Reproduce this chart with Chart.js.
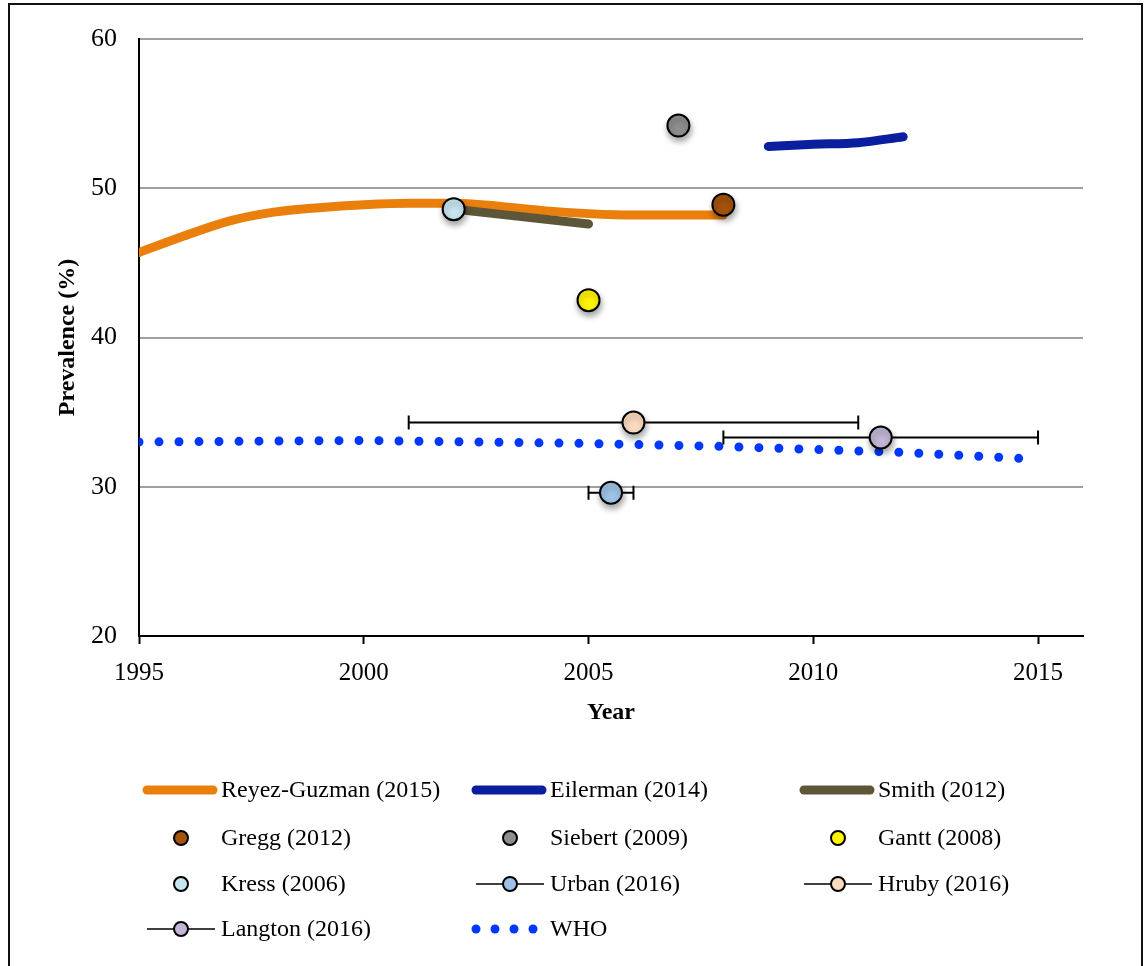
<!DOCTYPE html>
<html>
<head>
<meta charset="utf-8">
<script src="https://cdn.jsdelivr.net/npm/chart.js@4"></script>
<style>
  body { margin: 0; background: #fff; overflow: hidden; }
  #wrap { position: relative; width: 1144px; height: 966px; }
  #frame { position: absolute; left: 8px; top: 3px; width: 1131px; height: 1100px; border: 2px solid #111; pointer-events: none; }
</style>
</head>
<body>
<div id="wrap">
  <canvas id="grafica"></canvas>
  <div id="frame"></div>
</div>
<script>
// series values
var reyezYears = [1995, 1996, 1997, 1998, 1999, 2000, 2001, 2002, 2003, 2004, 2005, 2006, 2007, 2008];
var reyezVals  = [45.7, 46.8, 47.8, 48.4, 48.7, 48.9, 49.0, 49.0, 48.8, 48.5, 48.3, 48.2, 48.2, 48.2];
var eilermanYears = [2009, 2010, 2011, 2012];
var eilermanVals  = [52.8, 52.95, 53.05, 53.45];
var smithYears = [2002, 2005];
var smithVals  = [48.6, 47.6];
var whoYears = [1995, 2000, 2005, 2008, 2010, 2012, 2014.6];
var whoVals  = [33.0, 33.1, 32.9, 32.7, 32.5, 32.3, 31.9];

// single studies: [year, prevalence]
var gregg   = [2008, 48.9];
var siebert = [2007, 54.2];
var gantt   = [2005, 42.5];
var kress   = [2002, 48.6];
var urban   = [2005.5, 29.6];
var hruby   = [2006, 34.3];
var langton = [2011.5, 33.3];
// year ranges for the horizontal bars
var urbanRange   = [2005, 2006];
var hrubyRange   = [2001, 2011];
var langtonRange = [2008, 2015];

var yTicks = [20, 30, 40, 50, 60];
var xTicks = [1995, 2000, 2005, 2010, 2015];

var colores = {
  orange: '#EA7F0C',
  navy: '#0A1F9E',
  olive: '#5D5638',
  brown: '#A4520C',
  grey: '#8E8E8E',
  yellow: '#FFF500',
  ice: '#C7E5EE',
  sky: '#9DC3E6',
  peach: '#FBDBC0',
  lilac: '#C2B5D5',
  who: '#0037FF'
};

function puntos(xs, ys) {
  var out = [];
  for (var i = 0; i < xs.length; i++) out.push({ x: xs[i], y: ys[i] });
  return out;
}

function linea(label, xs, ys, color) {
  return {
    type: 'line', label: label, data: puntos(xs, ys),
    borderColor: color, backgroundColor: color, borderWidth: 9,
    borderCapStyle: 'round', pointRadius: 0, fill: false,
    cubicInterpolationMode: 'monotone', order: 3, legendKind: 'line'
  };
}

function punto(label, p, color, rango) {
  return {
    type: 'scatter', label: label, data: [{ x: p[0], y: p[1] }],
    backgroundColor: color, borderColor: '#000', borderWidth: 2,
    pointRadius: 11, pointHoverRadius: 11, order: 1,
    errX: rango || null, legendKind: rango ? 'bar' : 'dot'
  };
}

var datasets = [
  linea('Reyez-Guzman (2015)', reyezYears, reyezVals, colores.orange),
  linea('Eilerman (2014)', eilermanYears, eilermanVals, colores.navy),
  linea('Smith (2012)', smithYears, smithVals, colores.olive),
  punto('Gregg (2012)', gregg, colores.brown),
  punto('Siebert (2009)', siebert, colores.grey),
  punto('Gantt (2008)', gantt, colores.yellow),
  punto('Kress (2006)', kress, colores.ice),
  punto('Urban (2016)', urban, colores.sky, urbanRange),
  punto('Hruby (2016)', hruby, colores.peach, hrubyRange),
  punto('Langton (2016)', langton, colores.lilac, langtonRange),
  {
    type: 'line', label: 'WHO', data: puntos(whoYears, whoVals),
    borderColor: colores.who, borderWidth: 9, borderDash: [0, 20],
    borderCapStyle: 'round', pointRadius: 0, fill: false, order: 2,
    legendKind: 'dots'
  }
];
datasets[2].order = 2.5;

var fuente = 'Liberation Serif, Times New Roman, serif';

// horizontal range bars and point shadows
var barrasPlugin = {
  id: 'barras',
  beforeDatasetDraw: function (chart, args) {
    var ds = chart.data.datasets[args.index];
    var ctx = chart.ctx;
    if (ds.errX) {
      var xs = chart.scales.x, ys = chart.scales.y;
      var y = ys.getPixelForValue(ds.data[0].y);
      var x0 = xs.getPixelForValue(ds.errX[0]);
      var x1 = xs.getPixelForValue(ds.errX[1]);
      ctx.save();
      ctx.strokeStyle = '#000';
      ctx.lineWidth = 2;
      ctx.beginPath();
      ctx.moveTo(x0, y); ctx.lineTo(x1, y);
      ctx.moveTo(x0, y - 7); ctx.lineTo(x0, y + 7);
      ctx.moveTo(x1, y - 7); ctx.lineTo(x1, y + 7);
      ctx.stroke();
      ctx.restore();
    }
    if (ds.type === 'scatter') {
      ctx.save();
      ctx.shadowColor = 'rgba(0,0,0,0.35)';
      ctx.shadowBlur = 6;
      ctx.shadowOffsetY = 4;
      ctx.shadowOffsetX = 1;
    }
  },
  afterDatasetDraw: function (chart, args) {
    var ds = chart.data.datasets[args.index];
    if (ds.type === 'scatter') chart.ctx.restore();
  }
};

// three-column legend under the axis
var leyendaPlugin = {
  id: 'leyenda',
  afterDraw: function (chart) {
    var ctx = chart.ctx;
    var colX = [143, 472, 800];
    var rowY = [790, 838, 884, 929];
    var muestra = 74;
    ctx.save();
    chart.data.datasets.forEach(function (ds, i) {
      var x = colX[i % 3], y = rowY[Math.floor(i / 3)];
      var c = x + 38;
      ctx.lineCap = 'round';
      if (ds.legendKind === 'line') {
        ctx.strokeStyle = ds.borderColor; ctx.lineWidth = 9;
        ctx.beginPath(); ctx.moveTo(x + 4, y); ctx.lineTo(x + muestra - 4, y); ctx.stroke();
      } else if (ds.legendKind === 'dots') {
        ctx.fillStyle = ds.borderColor;
        for (var k = 0; k < 4; k++) {
          ctx.beginPath(); ctx.arc(x + 4 + k * 19, y, 4.5, 0, Math.PI * 2); ctx.fill();
        }
      } else {
        if (ds.legendKind === 'bar') {
          ctx.strokeStyle = '#000'; ctx.lineWidth = 1.5; ctx.lineCap = 'butt';
          ctx.beginPath(); ctx.moveTo(x + 4, y); ctx.lineTo(x + muestra - 2, y); ctx.stroke();
        }
        ctx.fillStyle = ds.backgroundColor; ctx.strokeStyle = '#000'; ctx.lineWidth = 2;
        ctx.beginPath(); ctx.arc(c, y, 7, 0, Math.PI * 2); ctx.fill(); ctx.stroke();
      }
      ctx.fillStyle = '#000';
      ctx.font = '24px ' + fuente;
      ctx.textBaseline = 'middle';
      ctx.textAlign = 'left';
      ctx.fillText(ds.label, x + 78, y + 1);
    });
    ctx.restore();
  }
};

new Chart(document.getElementById('grafica'), {
  data: { datasets: datasets },
  options: {
    responsive: true,
    maintainAspectRatio: false,
    animation: false,
    events: [],
    layout: { padding: { left: 0, top: 39, right: 61, bottom: 235 } },
    plugins: {
      legend: { display: false },
      tooltip: { enabled: false },
      title: { display: false }
    },
    scales: {
      x: {
        type: 'linear', min: 1995, max: 2016,
        afterFit: function (s) { s.height = 95; },
        afterBuildTicks: function (s) { s.ticks = xTicks.map(function (v) { return { value: v }; }); },
        ticks: { callback: function (v) { return String(v); }, color: '#000', font: { family: fuente, size: 25 }, padding: 14 },
        grid: { drawOnChartArea: false, drawTicks: true, tickLength: 8, tickColor: '#000', tickWidth: 2 },
        border: { color: '#000', width: 2 },
        title: { display: true, text: 'Year', color: '#000', font: { family: fuente, size: 24, weight: 'bold' }, padding: { top: 13 } }
      },
      y: {
        type: 'linear', min: 20, max: 60,
        afterFit: function (s) { s.width = 139; },
        afterBuildTicks: function (s) { s.ticks = yTicks.map(function (v) { return { value: v }; }); },
        ticks: { color: '#000', font: { family: fuente, size: 26 }, padding: 22 },
        grid: { color: '#A0A0A0', lineWidth: 2, drawTicks: false },
        border: { color: '#000', width: 2 },
        title: { display: true, text: 'Prevalence (%)', color: '#000', font: { family: fuente, size: 24, weight: 'bold' }, padding: { top: 53 } }
      }
    }
  },
  plugins: [barrasPlugin, leyendaPlugin]
});
</script>
</body>
</html>
